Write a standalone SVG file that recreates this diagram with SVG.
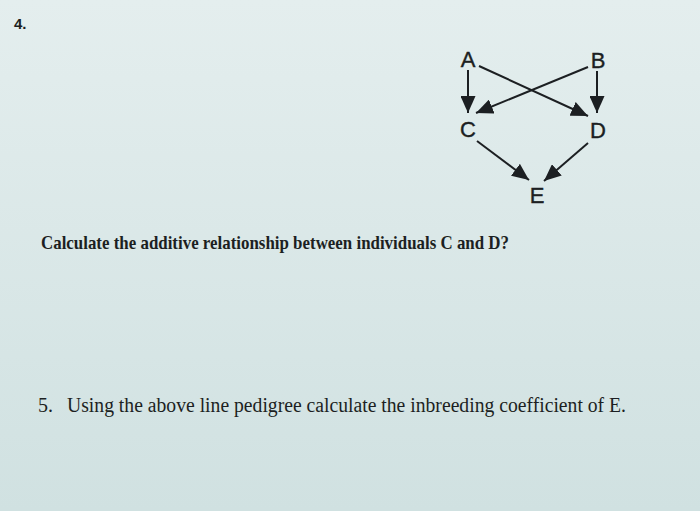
<svg xmlns="http://www.w3.org/2000/svg" width="700" height="511" viewBox="0 0 700 511">
<defs>
<linearGradient id="bg" x1="0" y1="0" x2="0" y2="1">
<stop offset="0" stop-color="#e4eeee"/>
<stop offset="1" stop-color="#d0e1e1"/>
</linearGradient>
<marker id="arr" viewBox="0 0 17 15" refX="17" refY="7.5" markerWidth="17" markerHeight="15" markerUnits="userSpaceOnUse" orient="auto">
<path d="M0,0 L17,7.5 L0,15 Z" fill="#1c1f22"/>
</marker>
<style>
.lbl{font-family:"Liberation Sans",Arial,sans-serif;font-size:22px;fill:#1c1f22;stroke:#1c1f22;stroke-width:0.4;text-anchor:middle}
.q{font-family:"Liberation Serif","DejaVu Serif",serif;fill:#1c1f22}
.edge{stroke:#1c1f22;stroke-width:2;fill:none;marker-end:url(#arr)}
</style>
</defs>
<rect width="700" height="511" fill="url(#bg)"/>
<text x="14" y="29" style="font-family:'Liberation Sans',Arial,sans-serif;font-size:15px;font-weight:bold;fill:#1c1f22">4.</text>
<g id="connectors">
<line class="edge" x1="468" y1="70" x2="468" y2="113"/>
<line class="edge" x1="597" y1="71" x2="597" y2="113"/>
<line class="edge" x1="479" y1="66" x2="588" y2="116"/>
<line class="edge" x1="588" y1="67" x2="476" y2="113"/>
<line class="edge" x1="477" y1="141" x2="529" y2="180"/>
<line class="edge" x1="588" y1="143" x2="544" y2="181"/>
</g>
<g id="node-A"><text x="468" y="67" class="lbl">A</text></g>
<g id="node-B"><text x="598" y="68" class="lbl">B</text></g>
<g id="node-C"><text x="468" y="137" class="lbl">C</text></g>
<g id="node-D"><text x="598" y="138" class="lbl">D</text></g>
<g id="node-E"><text x="537" y="203" class="lbl">E</text></g>
<text x="41" y="249" class="q" font-size="19" font-weight="bold" textLength="468" lengthAdjust="spacingAndGlyphs">Calculate the additive relationship between individuals C and D?</text>
<text x="38" y="412" class="q" font-size="20">5.</text>
<text x="67" y="412" class="q" font-size="20" textLength="559" lengthAdjust="spacingAndGlyphs">Using the above line pedigree calculate the inbreeding coefficient of E.</text>
</svg>
